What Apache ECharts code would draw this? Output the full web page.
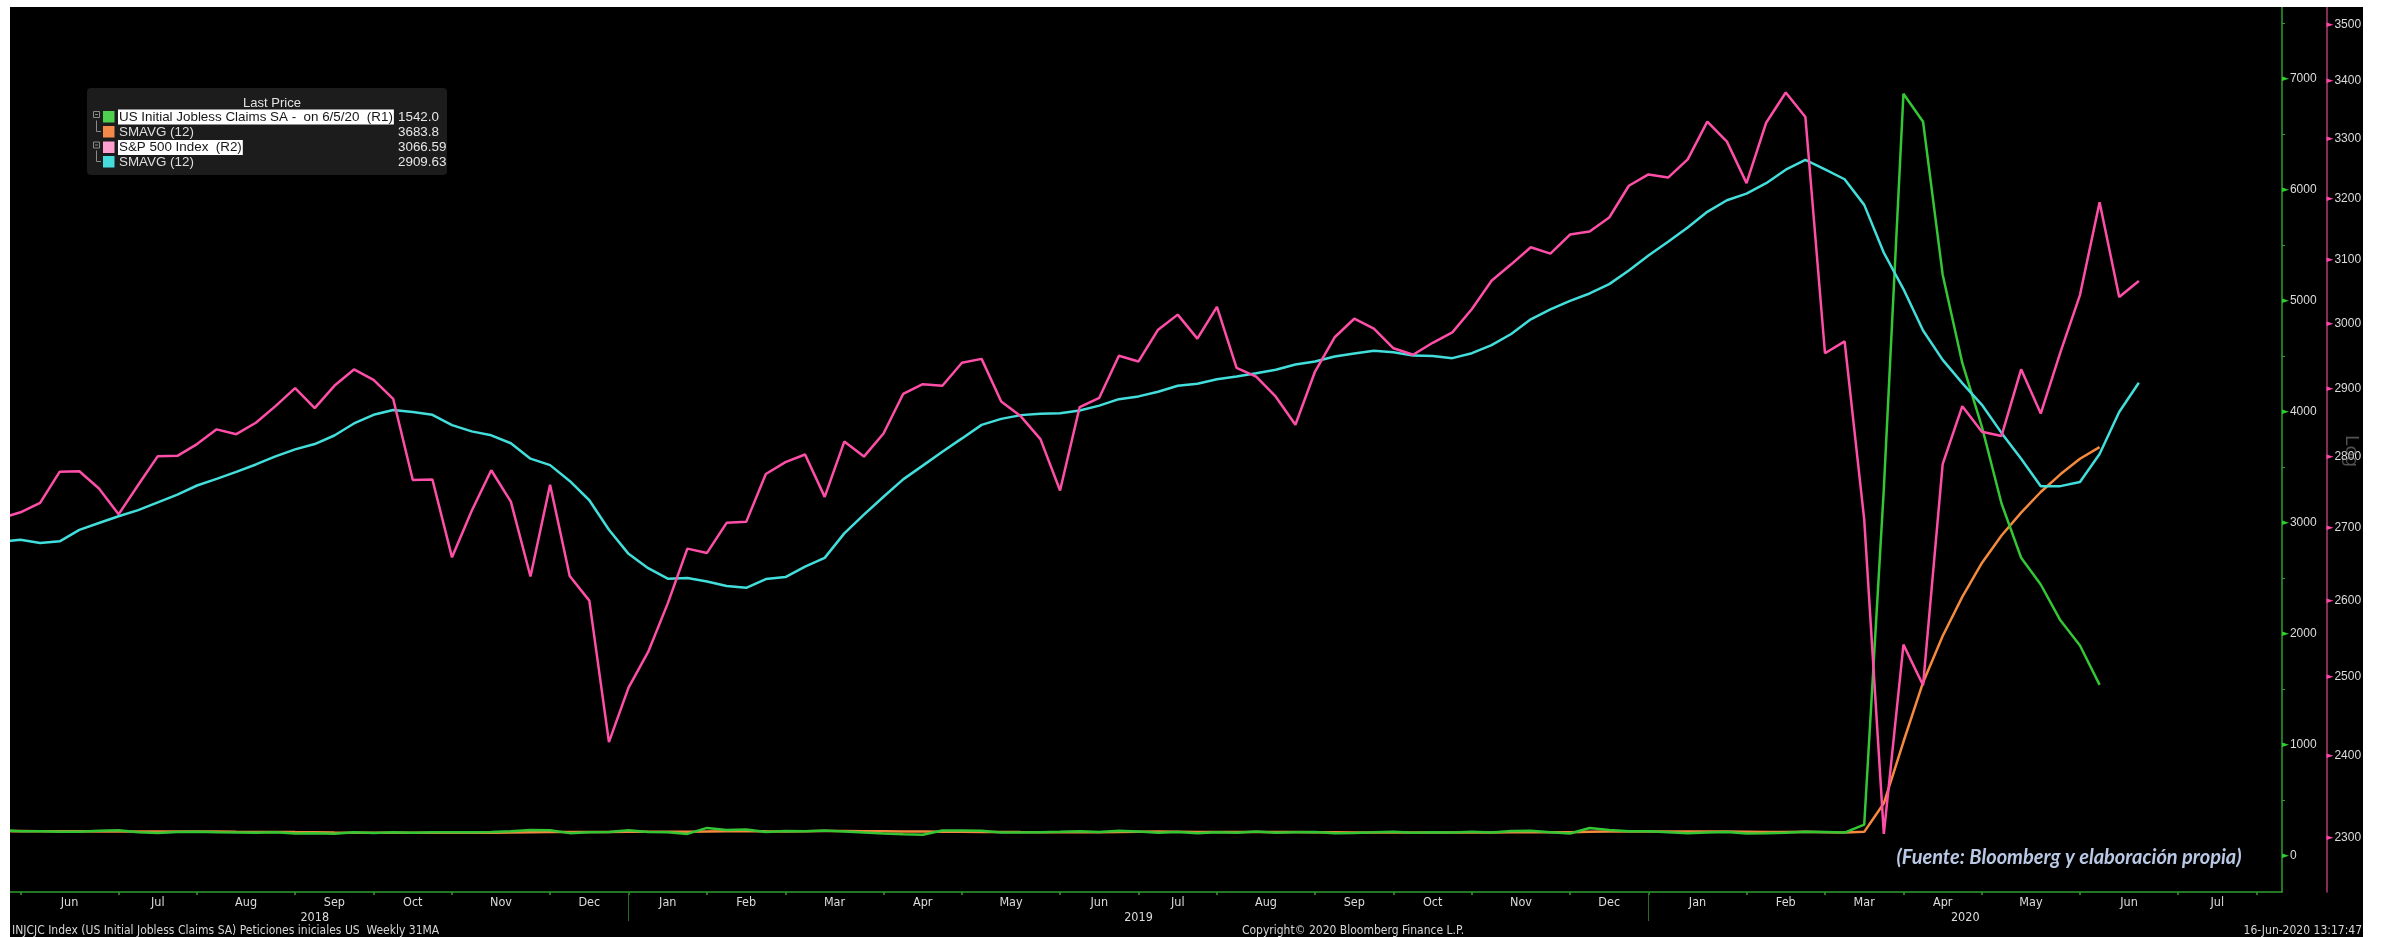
<!DOCTYPE html>
<html><head><meta charset="utf-8">
<script src="https://cdn.jsdelivr.net/npm/echarts@6/dist/echarts.min.js"></script>
<style>html,body{margin:0;padding:0;background:#fff;}#c{width:2382px;height:937px;}</style>
</head><body><div id="c"></div>
<script>
// ---------- DATA ----------
// weekly points (Fridays); last S&P point is the partial week of 16-Jun-2020; later dates are empty axis space
const weekDates = [
'2018-05-18','2018-05-25','2018-06-01','2018-06-08','2018-06-15','2018-06-22','2018-06-29','2018-07-06','2018-07-13','2018-07-20',
'2018-07-27','2018-08-03','2018-08-10','2018-08-17','2018-08-24','2018-08-31','2018-09-07','2018-09-14','2018-09-21','2018-09-28',
'2018-10-05','2018-10-12','2018-10-19','2018-10-26','2018-11-02','2018-11-09','2018-11-16','2018-11-23','2018-11-30','2018-12-07',
'2018-12-14','2018-12-21','2018-12-28','2019-01-04','2019-01-11','2019-01-18','2019-01-25','2019-02-01','2019-02-08','2019-02-15',
'2019-02-22','2019-03-01','2019-03-08','2019-03-15','2019-03-22','2019-03-29','2019-04-05','2019-04-12','2019-04-19','2019-04-26',
'2019-05-03','2019-05-10','2019-05-17','2019-05-24','2019-05-31','2019-06-07','2019-06-14','2019-06-21','2019-06-28','2019-07-05',
'2019-07-12','2019-07-19','2019-07-26','2019-08-02','2019-08-09','2019-08-16','2019-08-23','2019-08-30','2019-09-06','2019-09-13',
'2019-09-20','2019-09-27','2019-10-04','2019-10-11','2019-10-18','2019-10-25','2019-11-01','2019-11-08','2019-11-15','2019-11-22',
'2019-11-29','2019-12-06','2019-12-13','2019-12-20','2019-12-27','2020-01-03','2020-01-10','2020-01-17','2020-01-24','2020-01-31',
'2020-02-07','2020-02-14','2020-02-21','2020-02-28','2020-03-06','2020-03-13','2020-03-20','2020-03-27','2020-04-03','2020-04-10',
'2020-04-17','2020-04-24','2020-05-01','2020-05-08','2020-05-15','2020-05-22','2020-05-29','2020-06-05','2020-06-12','2020-06-16',
'2020-06-23','2020-06-30','2020-07-07','2020-07-14','2020-07-21','2020-07-28','2020-08-04'];

// S&P 500 Index (R2), weekly close
const sp500 = [
2712.97,2721.33,2734.62,2779.03,2779.66,2754.88,2718.37,2759.82,2801.31,2801.83,
2818.82,2840.35,2833.28,2850.13,2874.69,2901.52,2871.68,2904.98,2929.67,2913.98,
2885.57,2767.13,2767.78,2658.69,2723.06,2781.01,2736.27,2632.56,2760.17,2633.08,
2599.95,2416.62,2485.74,2531.94,2596.26,2670.71,2664.76,2706.53,2707.88,2775.60,
2792.67,2803.69,2743.07,2822.48,2800.71,2834.40,2892.74,2907.41,2905.03,2939.88,
2945.64,2881.40,2859.53,2826.06,2752.06,2873.34,2886.98,2950.46,2941.76,2990.41,
3013.77,2976.61,3025.86,2932.05,2918.65,2888.68,2847.11,2926.46,2978.71,3007.39,
2992.07,2961.79,2952.01,2970.27,2986.20,3022.55,3066.91,3093.08,3120.46,3110.29,
3140.98,3145.91,3168.80,3221.22,3240.02,3234.85,3265.35,3329.62,3295.47,3225.52,
3327.71,3380.16,3337.75,2954.22,2972.37,2711.02,2304.92,2541.47,2488.65,2789.82,
2874.56,2836.74,2830.71,2929.80,2863.70,2955.45,3044.31,3193.93,3041.31,3066.59];

// S&P 500 SMAVG (12)
const sp500Sma12 = [
2680.32,2682.83,2678.50,2680.75,2696.70,2706.20,2715.70,2724.32,2735.25,2746.25,
2759.20,2768.58,2778.61,2789.34,2801.01,2811.22,2818.89,2831.40,2849.01,2861.85,
2868.88,2865.98,2861.73,2846.59,2837.41,2831.65,2820.11,2797.70,2788.41,2765.75,
2738.27,2696.82,2663.51,2643.91,2629.61,2630.61,2625.76,2619.55,2617.18,2629.10,
2631.81,2646.03,2657.96,2691.78,2718.03,2743.23,2767.94,2787.66,2807.68,2827.13,
2846.94,2855.76,2861.33,2863.20,2863.95,2868.18,2875.37,2885.04,2889.13,2896.05,
2905.11,2908.17,2914.85,2919.07,2924.00,2929.22,2937.14,2941.57,2949.21,2953.96,
2958.15,2955.76,2950.62,2950.09,2946.78,2954.32,2966.68,2983.71,3006.49,3021.81,
3035.33,3046.88,3061.60,3083.22,3107.22,3129.27,3152.54,3178.12,3197.17,3208.21,
3225.48,3247.97,3264.37,3248.39,3232.02,3189.51,3111.58,3053.80,2989.07,2944.09,
2909.01,2876.62,2835.20,2797.67,2758.17,2758.27,2764.26,2804.51,2865.87,2909.63];

// US Initial Jobless Claims SA (R1), thousands
const claims = [
234,222,222,218,218,227,232,214,207,217,
218,213,212,210,213,203,204,201,214,207,
214,210,215,214,214,216,224,234,231,206,
214,216,231,216,213,199,253,234,239,216,
225,223,229,221,211,202,196,192,230,230,
228,212,211,215,218,222,216,227,221,209,
216,206,215,209,220,209,215,217,204,208,
213,219,210,214,212,218,211,225,227,213,
203,252,234,222,222,214,204,211,216,202,
205,210,219,216,211,282,3307,6867,6615,5237,
4442,3867,3176,2687,2446,2123,1897,1542];

// Claims SMAVG (12)
const claimsSma12 = [
223.5,224.3,223.8,222.8,222.8,221.6,221.5,220.0,219.8,220.3,
220.9,220.2,218.3,217.3,216.6,215.3,214.2,212.0,210.5,209.9,
210.5,209.9,209.7,209.8,209.9,210.4,211.3,213.9,216.2,216.6,
216.6,217.3,218.8,219.3,219.1,217.8,221.1,222.6,223.8,222.3,
221.8,223.3,224.5,224.9,223.3,222.1,220.7,220.1,218.2,217.8,
216.9,216.6,215.4,214.8,213.8,213.9,214.3,216.4,218.5,219.9,
218.8,216.8,215.7,215.4,216.2,215.7,215.4,215.0,214.0,212.4,
211.8,212.6,212.1,212.8,212.5,213.3,212.5,213.8,214.8,214.5,
214.4,218.1,219.8,220.1,221.1,221.1,220.4,219.8,220.3,218.3,
216.5,216.3,217.6,214.6,212.7,217.7,474.8,1029.2,1563.4,1982.3,
2334.4,2639.8,2887.4,3093.8,3279.4,3438.3,3578.8,3683.8];

const claimsLabels = [0,1000,2000,3000,4000,5000,6000,7000];
const claimsMinorTicks = [500,1500,2500,3500,4500,5500,6500,7500];
const spLabels = [2300,2400,2500,2600,2700,2800,2900,3000,3100,3200,3300,3400,3500];
const monthNames = ['Jan','Feb','Mar','Apr','May','Jun','Jul','Aug','Sep','Oct','Nov','Dec'];

const legendTitle = 'Last Price';
const legendNames = ['US Initial Jobless Claims SA -  on 6/5/20  (R1)','SMAVG (12)','S&P 500 Index  (R2)','SMAVG (12)'];
const legendValues = ['1542.0','3683.8','3066.59','2909.63'];

const footLeft = 'INJCJC Index (US Initial Jobless Claims SA) Peticiones iniciales US  Weekly 31MA';
const footMid = 'Copyright\u00A9 2020 Bloomberg Finance L.P.';
const footRight = '16-Jun-2020 13:17:47';
const sourceNote = '(Fuente: Bloomberg y elaboración propia)';

// ---------- STYLE ----------
const C = {
  green:'#34c634', orange:'#f58a3e', pink:'#ff4ea8', cyan:'#42dedb',
  gAxis:'#2f9e2f', pAxis:'#b23a78', gTri:'#2fcf2f', pTri:'#ff45a8',
  text:'#dcdcdc'
};
const swatches = ['#4fcf4f','#f38a4a','#ff9fd0','#47dcdc'];
const highlight = [true,false,true,false];
const narrow = '"Liberation Sans Narrow","DejaVu Sans Condensed","Liberation Sans",sans-serif';
const XMAX = 116.3;

// month boundary ticks (last week of each month) and label positions
const monthOf = d => +d.slice(5,7);
const monthTicks = [];
for (let i = 0; i < weekDates.length - 1; i++) if (monthOf(weekDates[i]) !== monthOf(weekDates[i+1])) monthTicks.push(i);
const monthLabelPos = [], monthLabelMap = {};
for (let j = 0; j < monthTicks.length - 1; j++) {
  const p = (monthTicks[j] + monthTicks[j+1]) / 2;
  monthLabelPos.push(p);
  monthLabelMap[p.toFixed(2)] = monthNames[monthOf(weekDates[monthTicks[j]+1]) - 1];
}
const yearTicks = monthTicks.filter(i => weekDates[i].slice(0,4) !== weekDates[i+1].slice(0,4));
const yearBounds = [0].concat(yearTicks, [XMAX]);
const yearLabelPos = [], yearLabelMap = {};
for (let j = 0; j < yearBounds.length - 1; j++) {
  const p = (yearBounds[j] + yearBounds[j+1]) / 2;
  yearLabelPos.push(p);
  yearLabelMap[p.toFixed(2)] = weekDates[Math.ceil(yearBounds[j]) + (j ? 1 : 0)].slice(0,4);
}

const toXY = arr => arr.map((v, i) => [i, v]);

const chart = echarts.init(document.getElementById('c'), null, {renderer:'canvas'});

const legendEls = [];
legendEls.push({type:'rect', shape:{x:87,y:88,width:360,height:87,r:4}, style:{fill:'#1c1c1c'}, z:100});
legendEls.push({type:'text', x:272, y:103, style:{text:legendTitle, fill:'#e4e4e4', fontSize:13, fontFamily:'"Liberation Sans",sans-serif', align:'center', verticalAlign:'middle', textAlign:'center', textVerticalAlign:'middle'}, z:101});
const rowY = [117, 132, 147.5, 162];
legendNames.forEach((name, i) => {
  const y = rowY[i];
  if (highlight[i]) {
    legendEls.push({type:'rect', shape:{x:93.5,y:y-5.5,width:6,height:6}, style:{fill:'none', stroke:'#8a8a8a', lineWidth:1}, z:101});
    legendEls.push({type:'line', shape:{x1:95,y1:y-2.5,x2:98,y2:y-2.5}, style:{stroke:'#8a8a8a', lineWidth:1}, z:101});
  } else {
    legendEls.push({type:'polyline', shape:{points:[[96.5,y-15+3.5],[96.5,y-0.5],[101,y-0.5]]}, style:{fill:'none', stroke:'#8a8a8a', lineWidth:1}, z:101});
  }
  legendEls.push({type:'rect', shape:{x:103,y:y-6,width:11.5,height:11.5}, style:{fill:swatches[i]}, z:101});
  legendEls.push({type:'text', x:118, y:y, style:{text:name, fill: highlight[i] ? '#161616' : '#dedede',
    backgroundColor: highlight[i] ? '#ffffff' : 'transparent', padding:[1,1,1,1],
    fontSize:13.4, fontFamily:'"Liberation Sans",sans-serif', verticalAlign:'middle', textVerticalAlign:'middle'}, z:102});
  legendEls.push({type:'text', x:398, y:y, style:{text:legendValues[i], fill:'#e6e6e6', fontSize:13.4, fontFamily:'"Liberation Sans",sans-serif', verticalAlign:'middle', textVerticalAlign:'middle'}, z:102});
});

const footStyle = {fill:'#d6d6d6', fontSize:12, fontFamily:narrow, verticalAlign:'middle', textVerticalAlign:'middle'};

const option = {
  animation:false,
  backgroundColor:'#000',
  grid:{left:0.9, right:100, top:0, bottom:45, containLabel:false},
  xAxis:[
    {type:'value', min:0, max:XMAX, position:'bottom',
     axisLine:{onZero:false, lineStyle:{color:C.gAxis, width:1.5}},
     axisTick:{show:true, customValues:monthTicks, length:3, lineStyle:{color:C.gAxis, width:1.5}},
     axisLabel:{show:true, customValues:monthLabelPos, margin:4, color:C.text, fontSize:12.5, fontFamily:narrow,
       formatter:v => monthLabelMap[(+v).toFixed(2)] || ''},
     splitLine:{show:false}},
    {type:'value', min:0, max:XMAX, position:'bottom',
     axisLine:{show:false, onZero:false},
     axisTick:{show:true, customValues:yearTicks, length:29, lineStyle:{color:'#22701f', width:1}},
     axisLabel:{show:true, customValues:yearLabelPos, margin:19, color:C.text, fontSize:12.5, fontFamily:narrow,
       formatter:v => yearLabelMap[(+v).toFixed(2)] || ''},
     splitLine:{show:false}}
  ],
  yAxis:[
    {type:'value', position:'right', offset:0, min:-324.3, max:7711.7,
     axisLine:{show:true, onZero:false, lineStyle:{color:C.gAxis, width:1.5}},
     axisTick:{show:true, customValues:claimsMinorTicks, length:3, lineStyle:{color:C.gAxis, width:1}},
     axisLabel:{show:true, customValues:claimsLabels, margin:0,
       formatter:v => '{t|\u25BA}{v|' + Math.round(v) + '}',
       rich:{t:{color:C.gTri, fontSize:9, fontFamily:'"DejaVu Sans"', padding:[0,1,0,0]},
             v:{color:C.text, fontSize:12, fontFamily:'"Liberation Sans",sans-serif'}}},
     splitLine:{show:false}},
    {type:'log', logBase:10, position:'right', offset:44.5, min:2236.7, max:3545.5,
     axisLine:{show:true, onZero:false, lineStyle:{color:C.pAxis, width:1.5}},
     axisTick:{show:false},
     axisLabel:{show:true, customValues:spLabels, margin:0,
       formatter:v => '{t|\u25BA}{v|' + Math.round(v) + '}',
       rich:{t:{color:C.pTri, fontSize:9, fontFamily:'"DejaVu Sans"', padding:[0,1,0,0]},
             v:{color:C.text, fontSize:12, fontFamily:'"Liberation Sans",sans-serif'}}},
     splitLine:{show:false}, minorSplitLine:{show:false}}
  ],
  series:[
    {name:'Claims SMAVG (12)', type:'line', xAxisIndex:0, yAxisIndex:0, data:toXY(claimsSma12), symbol:'none', lineStyle:{color:C.orange, width:2.5}, z:2},
    {name:'US Initial Jobless Claims SA', type:'line', xAxisIndex:0, yAxisIndex:0, data:toXY(claims), symbol:'none', lineStyle:{color:C.green, width:2.5}, z:3},
    {name:'S&P 500 SMAVG (12)', type:'line', xAxisIndex:0, yAxisIndex:1, data:toXY(sp500Sma12), symbol:'none', lineStyle:{color:C.cyan, width:2.5}, z:4},
    {name:'S&P 500 Index', type:'line', xAxisIndex:0, yAxisIndex:1, data:toXY(sp500), symbol:'none', lineStyle:{color:C.pink, width:2.5}, z:5}
  ],
  graphic:{elements:[
    {type:'rect', shape:{x:0,y:0,width:2382,height:7}, style:{fill:'#fff'}, z:200},
    {type:'rect', shape:{x:0,y:0,width:10,height:937}, style:{fill:'#fff'}, z:200},
    {type:'rect', shape:{x:2363,y:0,width:19,height:937}, style:{fill:'#fff'}, z:200},
    ...legendEls,
    {type:'text', x:2069, y:858, style:{text:sourceNote, fill:'#b9c8e4', fontSize:20, fontWeight:'bold', fontStyle:'italic', fontFamily:'Lato,"Open Sans",sans-serif', align:'center', verticalAlign:'middle', textAlign:'center', textVerticalAlign:'middle'}, z:100},
    {type:'text', x:2351, y:451, rotation:-Math.PI/2, style:{text:'Log', fill:'rgba(150,150,150,0.55)', fontSize:19, fontFamily:'"Liberation Sans",sans-serif', align:'center', verticalAlign:'middle', textAlign:'center', textVerticalAlign:'middle'}, z:100},
    {type:'text', x:12, y:931, style:Object.assign({text:footLeft, align:'left', textAlign:'left'}, footStyle), z:100},
    {type:'text', x:1353, y:931, style:Object.assign({text:footMid, align:'center', textAlign:'center'}, footStyle), z:100},
    {type:'text', x:2362, y:931, style:Object.assign({text:footRight, align:'right', textAlign:'right'}, footStyle), z:100}
  ]}
};
chart.setOption(option);
</script></body></html>
